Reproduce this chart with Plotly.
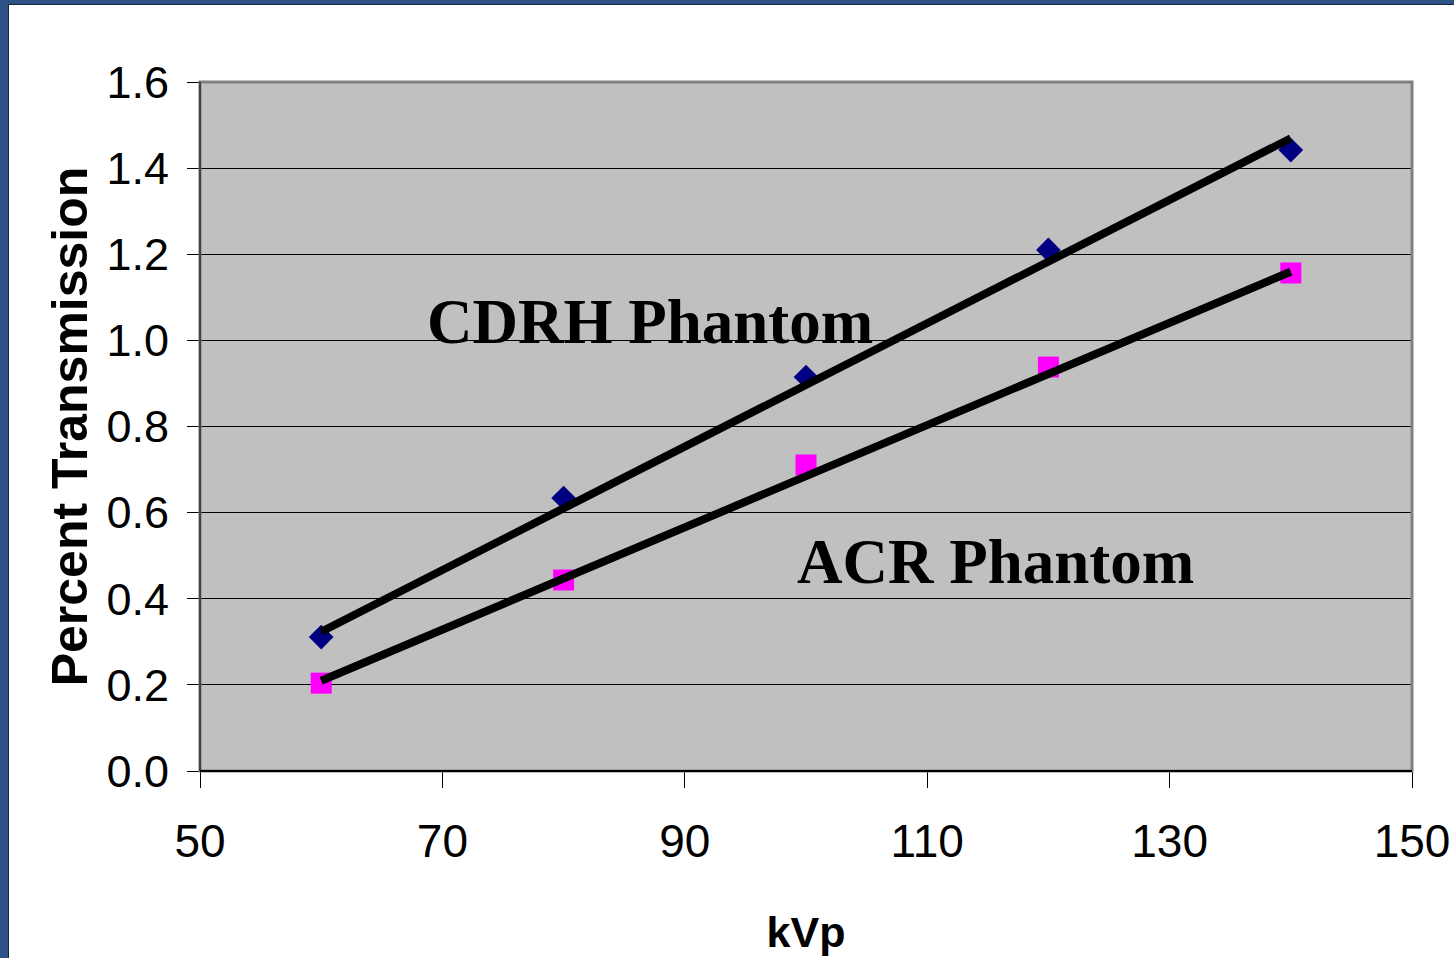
import plotly.graph_objects as go

# ---- data ----
kvp = [60, 80, 100, 120, 140]
cdrh = [0.311, 0.634, 0.915, 1.210, 1.442]
acr = [0.204, 0.4435, 0.7106, 0.938, 1.1565]

trend_x = [60, 140]
cdrh_trend = [0.3235, 1.4693]
acr_trend = [0.2097, 1.1595]

x_ticks = [50, 70, 90, 110, 130, 150]
y_ticks = [0.0, 0.2, 0.4, 0.6, 0.8, 1.0, 1.2, 1.4, 1.6]
y_tick_text = ["0.0", "0.2", "0.4", "0.6", "0.8", "1.0", "1.2", "1.4", "1.6"]

W, H = 1454, 958
ML, MR, MT, MB = 200, 42, 82, 187
PW, PH = W - ML - MR, H - MT - MB

def px_x(p):
    return (p - ML) / PW

def px_y(p):
    return (H - MB - p) / PH

sans = "Liberation Sans, Arial, sans-serif"

fig = go.Figure()
fig.add_trace(go.Scatter(x=kvp, y=cdrh, mode="markers",
                         marker=dict(symbol="diamond", size=19, color="#000080",
                                     line=dict(width=0)),
                         showlegend=False, cliponaxis=False))
fig.add_trace(go.Scatter(x=kvp, y=acr, mode="markers",
                         marker=dict(symbol="square", size=21, color="#ff00ff",
                                     line=dict(width=0)),
                         showlegend=False, cliponaxis=False))
fig.add_trace(go.Scatter(x=trend_x, y=cdrh_trend, mode="lines",
                         line=dict(color="black", width=8), showlegend=False))
fig.add_trace(go.Scatter(x=trend_x, y=acr_trend, mode="lines",
                         line=dict(color="black", width=8), showlegend=False))

shapes = [
    dict(type="rect", xref="paper", yref="paper", x0=0, x1=1, y0=0, y1=1,
         fillcolor="#c0c0c0", line=dict(width=0), layer="below"),
    dict(type="rect", xref="paper", yref="paper", x0=0, x1=1, y0=0, y1=1,
         line=dict(color="#808080", width=3), layer="above"),
    dict(type="line", xref="paper", yref="paper", x0=0, x1=0, y0=0, y1=1,
         line=dict(color="#404040", width=2), layer="above"),
    dict(type="line", xref="paper", yref="paper", x0=0, x1=1, y0=0, y1=0,
         line=dict(color="#000000", width=2), layer="above"),
    dict(type="rect", xref="paper", yref="paper", x0=px_x(-2), x1=px_x(8),
         y0=px_y(H + 2), y1=px_y(-2), fillcolor="#2e5286", line=dict(width=0),
         layer="below"),
    dict(type="rect", xref="paper", yref="paper", x0=px_x(-2), x1=px_x(W + 2),
         y0=px_y(4), y1=px_y(-2), fillcolor="#2e5286", line=dict(width=0),
         layer="below"),
    dict(type="line", xref="paper", yref="paper", x0=px_x(8.5), x1=px_x(8.5),
         y0=px_y(H + 2), y1=px_y(4), line=dict(color="#15253d", width=1), layer="below"),
    dict(type="line", xref="paper", yref="paper", x0=px_x(8), x1=px_x(W + 2),
         y0=px_y(4.5), y1=px_y(4.5), line=dict(color="#15253d", width=1), layer="below"),
]

annotations = [
    dict(x=87.13, y=1.0427, xref="x", yref="y", text="<b>CDRH Phantom</b>",
         showarrow=False, xanchor="center", yanchor="middle",
         font=dict(family="Liberation Serif, Times New Roman, serif", size=63, color="black")),
    dict(x=115.6, y=0.4842, xref="x", yref="y", text="<b>ACR Phantom</b>",
         showarrow=False, xanchor="center", yanchor="middle",
         font=dict(family="Liberation Serif, Times New Roman, serif", size=63, color="black")),
]

fig.update_layout(
    width=W, height=H,
    margin=dict(l=ML, r=MR, t=MT, b=MB, pad=0, autoexpand=False),
    paper_bgcolor="white",
    plot_bgcolor="rgba(0,0,0,0)",
    shapes=shapes,
    annotations=annotations,
    xaxis=dict(range=[50, 150], tickvals=x_ticks, ticks="outside", ticklen=16,
               tickwidth=1, tickcolor="black", showgrid=False, zeroline=False,
               showline=False, automargin=False, ticklabelstandoff=14,
               tickfont=dict(family=sans, size=46, color="black"),
               title=dict(text="<b>kVp</b>", standoff=50,
                          font=dict(family=sans, size=43, color="black"))),
    yaxis=dict(range=[0, 1.6], tickvals=y_ticks, ticktext=y_tick_text,
               ticks="outside", ticklen=12, tickwidth=1, tickcolor="black",
               showgrid=True, gridcolor="black", gridwidth=1, zeroline=False,
               showline=False, automargin=False, ticklabelstandoff=9,
               tickfont=dict(family=sans, size=45, color="black"),
               title=dict(text="<b>Percent Transmission</b>", standoff=2,
                          font=dict(family=sans, size=50, color="black"))),
)

fig.write_html(
    "out.html",
    config={"displayModeBar": False},
    post_script="document.body.style.margin='0';document.body.style.overflow='hidden';",
)
